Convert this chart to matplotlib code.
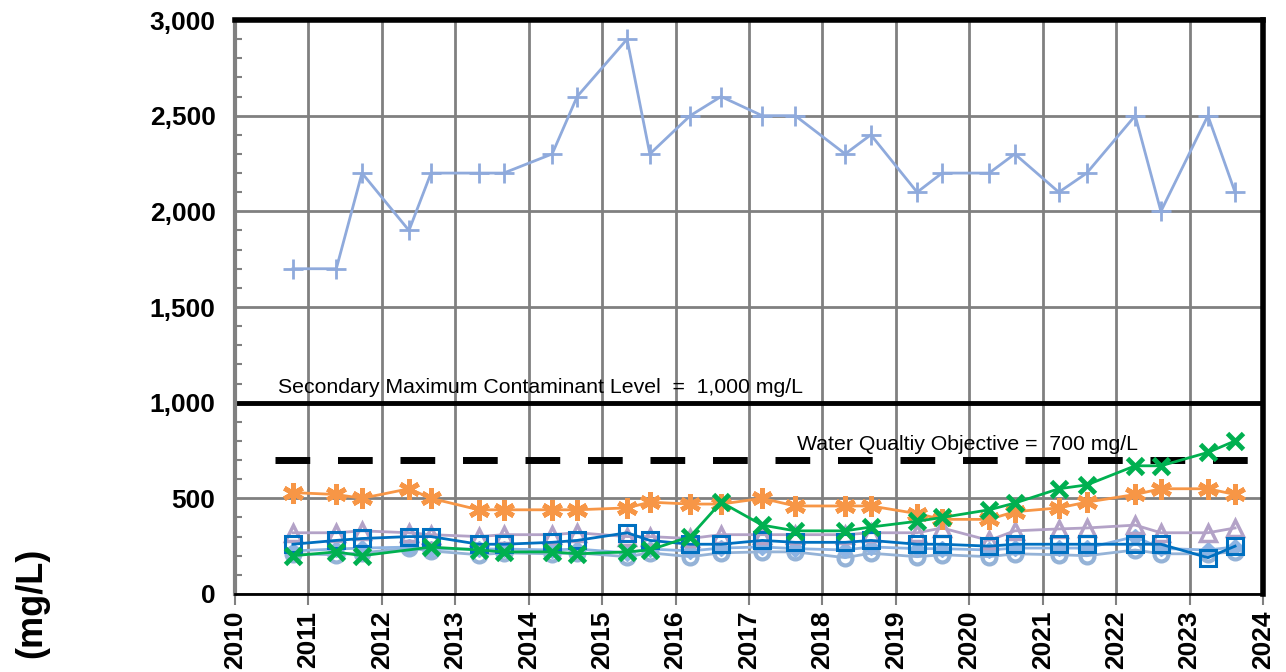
import matplotlib.pyplot as plt
from matplotlib.ticker import MultipleLocator, FuncFormatter

plt.rcParams['font.family'] = ['Liberation Sans', 'DejaVu Sans']

# Sampling dates (decimal years)
dates = [2010.79, 2011.38, 2011.73, 2012.37, 2012.67, 2013.32, 2013.66, 2014.32, 2014.66,
         2015.34, 2015.65, 2016.20, 2016.62, 2017.18, 2017.63, 2018.31, 2018.66, 2019.29,
         2019.63, 2020.27, 2020.62, 2021.22, 2021.60, 2022.26, 2022.61, 2023.25, 2023.62]

# Concentrations (mg/L) for each well
well_plus = [1700, 1700, 2200, 1900, 2200, 2200, 2200, 2300, 2600, 2900, 2300, 2500, 2600, 2500,
             2500, 2300, 2400, 2100, 2200, 2200, 2300, 2100, 2200, 2500, 2000, 2500, 2100]
well_star = [530, 520, 500, 550, 500, 440, 440, 440, 440, 450, 480, 470, 470, 500,
             460, 460, 460, 420, 390, 390, 430, 450, 480, 520, 550, 550, 520]
well_x = [200, 220, 200, None, 245, 230, 220, 220, 210, 220, 230, 300, 480, 360,
          330, 330, 350, 380, 400, 440, 475, 550, 570, 670, 670, 740, 800]
well_tri = [320, 320, 330, 320, 310, 300, 310, 310, 320, 300, 300, 290, 310, 310,
            310, 310, 320, 320, 345, 280, 330, 340, 345, 360, 320, 320, 345]
well_sq = [260, 280, 290, 300, 300, 260, 260, 270, 280, 320, 280, 260, 260, 280,
           270, 270, 280, 260, 260, 250, 260, 260, 260, 260, 260, 190, 250]
well_circ = [210, 205, 215, 240, 225, 205, 215, 210, 215, 195, 215, 195, 215, 220,
             220, 190, 213, 195, 205, 195, 210, 205, 200, 230, 210, 210, 220]
well_dia = [225, 235, 240, 245, 235, 235, 235, 230, 235, 215, 235, 225, 240, 246,
            237, 230, 246, 237, 237, 230, 240, 240, 240, 300, 238, 230, 246]

smcl = 1000
wqo = 700

fig = plt.figure(figsize=(12.86, 6.72), dpi=100)
ax = fig.add_axes([0.1827, 0.1161, 0.7994, 0.8541])

ax.plot(dates, well_circ, color='#95B3D7', lw=2, marker='o', ms=10, mfc='none', mew=3, zorder=3)
ax.plot(dates, well_dia, color='#8EB4E3', lw=2, marker='D', ms=8, zorder=3)
ax.plot(dates, well_tri, color='#B3A2C7', lw=2, marker='^', ms=12, mfc='none', mew=2.5, zorder=3)
ax.plot(dates, well_sq, color='#0070C0', lw=2, marker='s', ms=12, mfc='none', mew=2.2, zorder=4)
x_pts = [(d, v) for d, v in zip(dates, well_x) if v is not None]
ax.plot([p[0] for p in x_pts], [p[1] for p in x_pts], color='#00B050', lw=2,
        marker='x', ms=12, mew=3.5, zorder=5)
ax.plot(dates, well_star, color='#F79646', lw=2, marker=(6, 2, 0), ms=15, mew=3.5, zorder=4)
ax.plot(dates, well_plus, color='#8FAADC', lw=2, marker='+', ms=14, mew=2, zorder=4)

# Regulatory limits
ax.axhline(smcl, color='black', lw=3.5, zorder=2)
ax.plot([2010.55, 2024], [wqo, wqo], color='black', lw=5, dashes=(5, 4), zorder=2)
ax.text(2010.58, 1030, 'Secondary Maximum Contaminant Level  =  1,000 mg/L',
        fontsize=15.3, va='bottom', ha='left')
ax.text(2017.65, 730, 'Water Qualtiy Objective =  700 mg/L',
        fontsize=15.3, va='bottom', ha='left')

ax.set_xlim(2010, 2024)
ax.set_ylim(0, 3000)
ax.xaxis.set_major_locator(MultipleLocator(1))
ax.yaxis.set_major_locator(MultipleLocator(500))
ax.yaxis.set_minor_locator(MultipleLocator(100))
ax.yaxis.set_major_formatter(FuncFormatter(lambda v, p: f'{int(v):,}'))
ax.grid(True, which='major', color='#808080', lw=2, zorder=0)
ax.set_axisbelow(True)

ax.tick_params(axis='x', which='major', direction='out', length=8, width=1.5, color='#808080',
               labelsize=19, labelrotation=90, pad=4)
ax.tick_params(axis='y', which='major', length=0, labelsize=19, pad=14)
ax.tick_params(axis='y', which='minor', direction='in', length=5, width=1.5, color='#808080')
for lbl in ax.get_xticklabels() + ax.get_yticklabels():
    lbl.set_fontweight('bold')

ax.spines['left'].set_color('#808080')
ax.spines['left'].set_linewidth(3)
ax.spines['bottom'].set_color('black')
ax.spines['bottom'].set_linewidth(2)
ax.spines['top'].set_linewidth(4)
ax.spines['right'].set_linewidth(4)

fig.text(32 / 1286, 1 - 603 / 672, '(mg/L)', rotation=90, fontsize=26, fontweight='bold',
         ha='center', va='center')

fig.savefig('out.png', dpi=100)
